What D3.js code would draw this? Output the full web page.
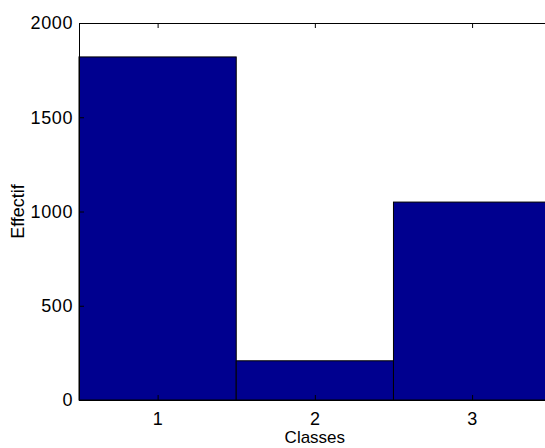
<!DOCTYPE html>
<html><head><meta charset="utf-8">
<script src="https://cdn.jsdelivr.net/npm/d3@7"></script>
<style>body{margin:0;background:#fff;} text{font-family:"Liberation Sans",Arial,sans-serif;}</style>
</head><body>
<svg id="c" width="545" height="448"></svg>
<script>
const categories = [1, 2, 3];
const counts = [1820, 208, 1050];
const yTicks = [0, 500, 1000, 1500, 2000];
const xLabel = "Classes";
const yLabel = "Effectif";

(function () {
const svg = d3.select("#c");
const mL = 79, mR = 550.7, mT = 23, mB = 400;
const x = d3.scaleLinear().domain([0.5, 3.5]).range([mL, mR]);
const y = d3.scaleLinear().domain([0, 2000]).range([mB, mT]);

// bars
svg.append("g").selectAll("rect").data(categories).join("rect")
  .attr("x", d => x(d - 0.5))
  .attr("y", (d, i) => y(counts[i]))
  .attr("width", d => x(d + 0.5) - x(d - 0.5))
  .attr("height", (d, i) => y(0) - y(counts[i]))
  .attr("fill", "#00008f")
  .attr("stroke", "#000")
  .attr("stroke-width", 1);

// axes
const fs = "18px";
const yAxis = d3.axisLeft(y).tickValues(yTicks).tickSize(-5).tickPadding(6).tickFormat(d3.format("d"));
const gy = svg.append("g").attr("transform", `translate(${mL},0)`).call(yAxis);
const xAxis = d3.axisBottom(x).tickValues(categories).tickSize(-5).tickPadding(12).tickFormat(d3.format("d"));
const gx = svg.append("g").attr("transform", `translate(0,${mB})`).call(xAxis);
const xTop = d3.axisTop(x).tickValues(categories).tickSize(-5).tickFormat("");
const gt = svg.append("g").attr("transform", `translate(0,${mT})`).call(xTop);
[gy, gx, gt].forEach(g => {
  g.selectAll("text").attr("font-size", fs).attr("fill", "#000").attr("font-family", "Liberation Sans, Arial, sans-serif")
    .attr("letter-spacing", "0.6px");
  g.select(".domain").attr("stroke", "#000").attr("stroke-width", 1);
  g.selectAll(".tick line").attr("stroke", "#000");
});
gx.select(".domain").remove();
gt.select(".domain").remove();
svg.append("line").attr("x1", mL).attr("x2", 545).attr("y1", mB + 0.5).attr("y2", mB + 0.5).attr("stroke", "#000");
svg.append("line").attr("x1", mL).attr("x2", 545).attr("y1", mT + 0.5).attr("y2", mT + 0.5).attr("stroke", "#000");

// labels
svg.append("text").attr("x", x(2)).attr("y", 443).attr("text-anchor", "middle")
  .attr("font-size", "17px").text(xLabel);
svg.append("text").attr("transform", `translate(24,${(mT + mB) / 2}) rotate(-90)`)
  .attr("text-anchor", "middle").attr("font-size", "18px").text(yLabel);
})();
</script>
</body></html>
